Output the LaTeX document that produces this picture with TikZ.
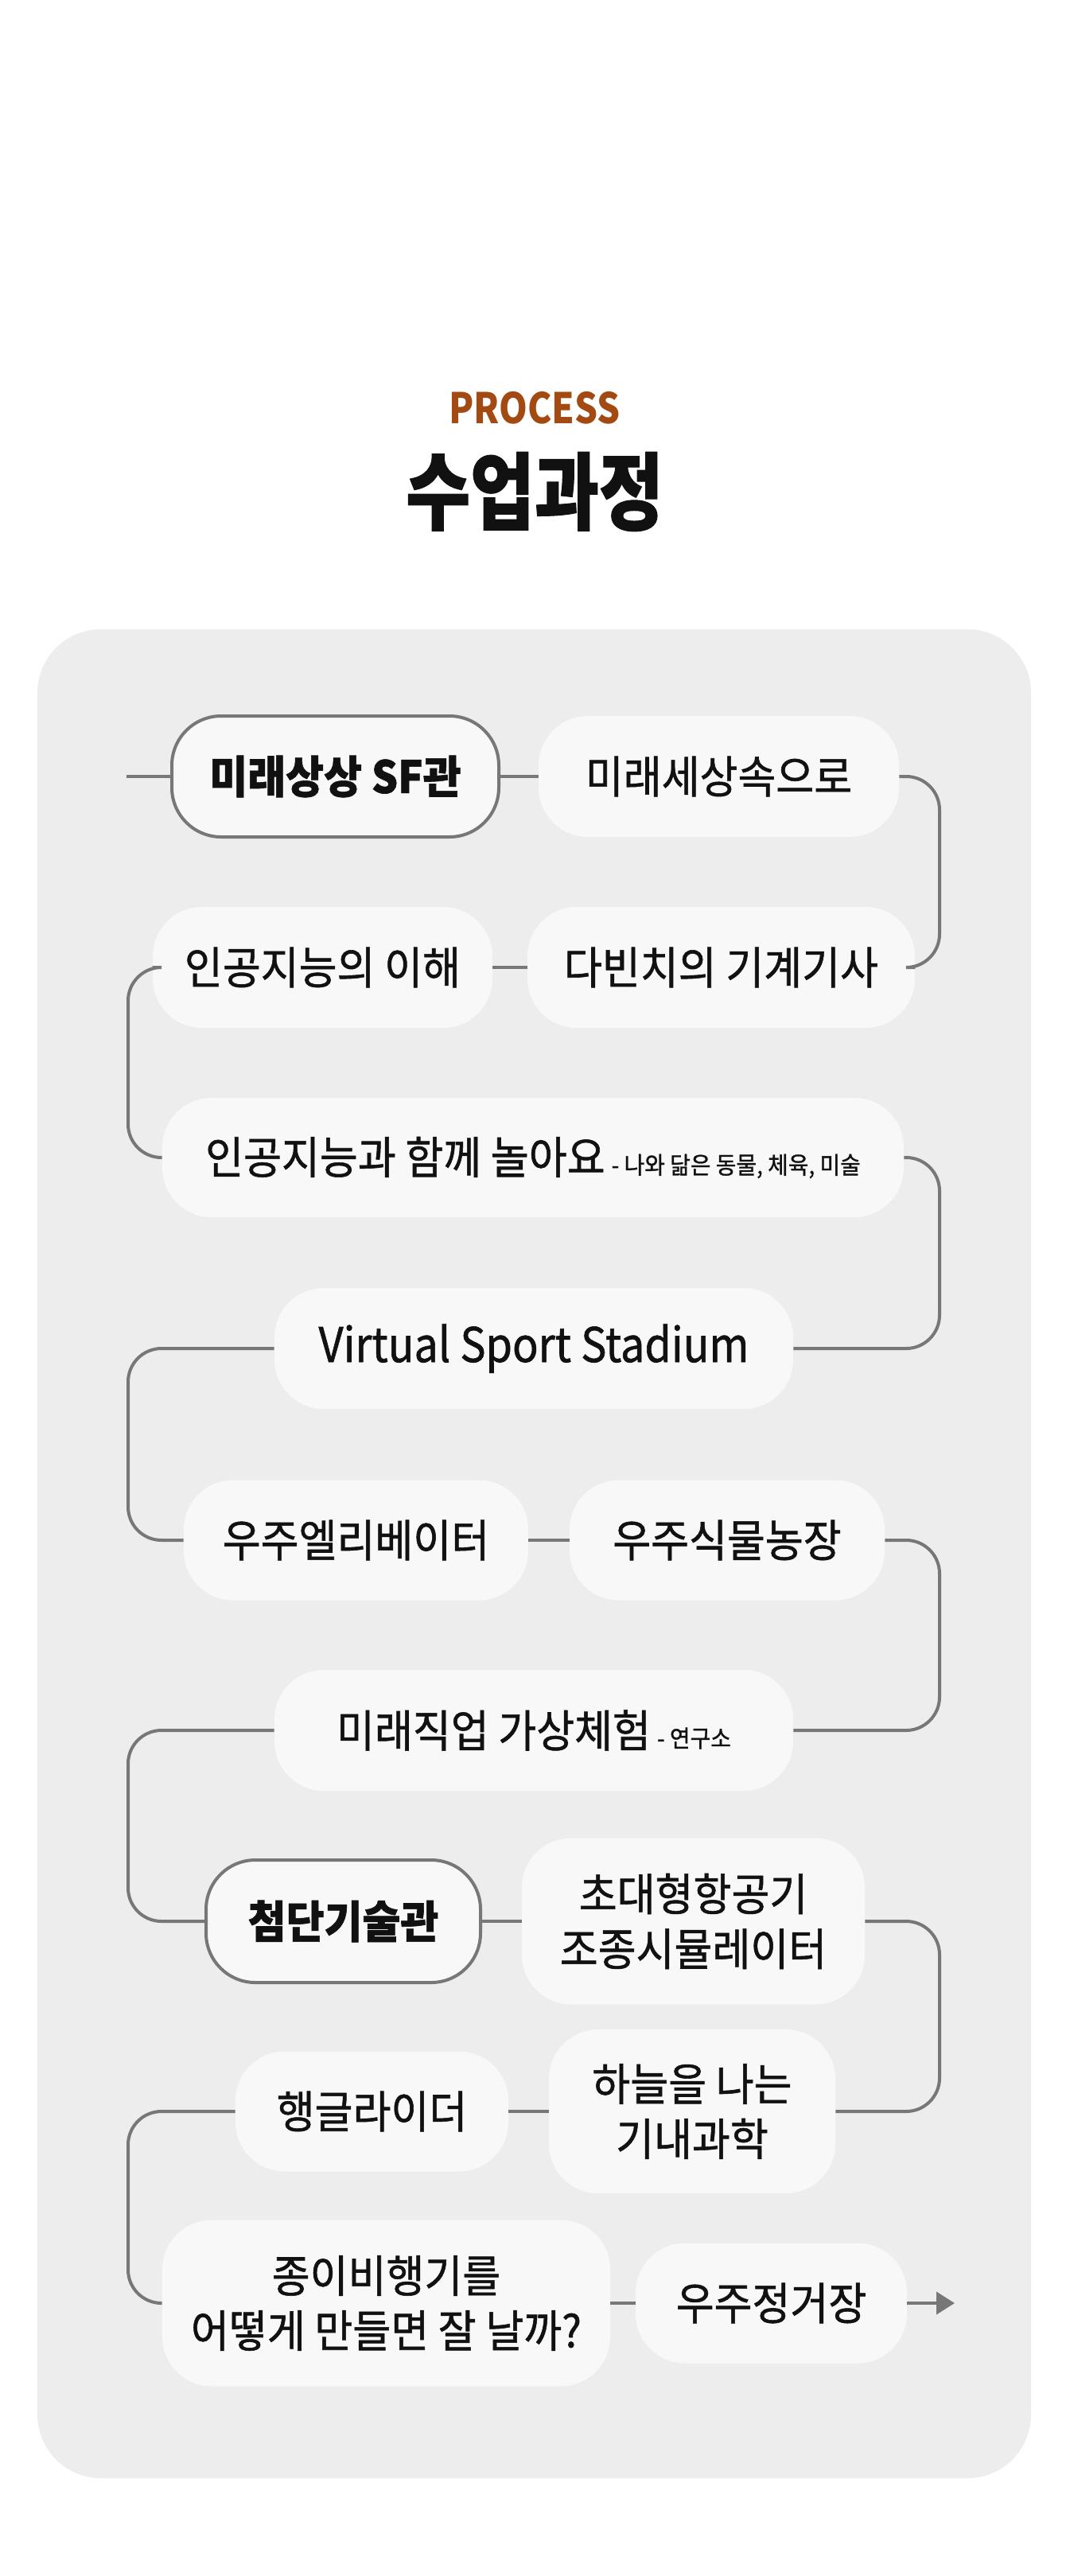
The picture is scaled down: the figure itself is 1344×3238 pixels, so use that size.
\documentclass[tikz,border=0pt]{standalone}
\usepackage{fontspec}
\setmainfont{Noto Sans CJK KR}[FakeStretch=0.93, FakeBold=1]
\newfontfamily\latinkr{Noto Sans CJK KR}[FakeStretch=0.9, FakeBold=1]
\newfontfamily\titlekr{Noto Sans CJK KR}[FakeStretch=0.83, FakeBold=1]
\newfontfamily\prockr{Noto Sans CJK KR}[FakeStretch=0.86]
\usetikzlibrary{arrows.meta}
\definecolor{linegray}{HTML}{777777}
\definecolor{boxfill}{HTML}{F8F8F8}
\definecolor{panelbg}{HTML}{EDEDED}
\definecolor{accent}{HTML}{A34A12}
\definecolor{textblack}{HTML}{111111}
\newcommand\smalltxt[1]{{\fontsize{15pt}{17pt}\selectfont #1}}
\begin{document}
\begin{tikzpicture}[x=0.5pt,y=-0.5pt,
  box/.style={fill=boxfill, rounded corners=31pt, inner sep=0pt, align=center, text=textblack,
              font=\fontsize{28pt}{34.5pt}\selectfont},
  boxb/.style={box, draw=linegray, line width=2pt, font=\fontsize{28pt}{34.5pt}\selectfont\bfseries},
  conn/.style={draw=linegray, line width=2pt, rounded corners=21pt}]
\useasboundingbox (0,0) rectangle (1344,3238);
\fill[white] (0,0) rectangle (1344,3238);
% titles
\node[text=accent, font=\prockr\fontsize{26.5pt}{30pt}\selectfont\bfseries, inner sep=0pt] (ttl1) at (672,513) {PROCESS};
\node[text=textblack, font=\titlekr\fontsize{53pt}{56pt}\selectfont\bfseries, inner sep=0pt] (ttl2) at (672,618) {수업과정};
% panel
\fill[panelbg, rounded corners=40pt] (47,791) rectangle (1296,3115);
% guide coordinates
\coordinate (R) at (1181,0);
\coordinate (L) at (161,0);
\coordinate (start) at (159,976);
\coordinate (end) at (1200,2895);
% boxes
\node[boxb, minimum width=205.5pt, minimum height=76pt] (b1) at (421.5,976) {미래상상 SF관};
\node[box, minimum width=226.5pt, minimum height=76pt] (b2) at (903.5,976) {미래세상속으로};
\node[box, minimum width=243.5pt, minimum height=76pt] (b3) at (906.5,1216) {다빈치의 기계기사};
\node[box, minimum width=213.5pt, minimum height=76pt] (b4) at (405.5,1216) {인공지능의 이해};
\node[box, minimum width=466pt, minimum height=75pt] (b5) at (670,1455) {인공지능과 함께 놀아요\hspace{4pt}\smalltxt{- 나와 닮은 동물, 체육, 미술}};
\node[box, minimum width=326pt, minimum height=76pt, font=\latinkr\fontsize{30pt}{34pt}\selectfont] (b6) at (671,1695) {Virtual Sport Stadium};
\node[box, minimum width=216.5pt, minimum height=75.5pt] (b7) at (447.5,1936) {우주엘리베이터};
\node[box, minimum width=198pt, minimum height=75.5pt] (b8) at (914,1936) {우주식물농장};
\node[box, minimum width=326pt, minimum height=76pt] (b9) at (671,2175) {미래직업 가상체험\hspace{4pt}\smalltxt{- 연구소}};
\node[boxb, minimum width=172.5pt, minimum height=77pt] (b10) at (431.5,2415) {첨단기술관};
\node[box, minimum width=215.5pt, minimum height=104.5pt] (b11) at (871.5,2415) {초대형항공기\\조종시뮬레이터};
\node[box, minimum width=180pt, minimum height=103pt] (b12) at (870,2654) {하늘을 나는\\기내과학};
\node[box, minimum width=171.5pt, minimum height=75.5pt] (b13) at (467.5,2654) {행글라이더};
\node[box, minimum width=281.5pt, minimum height=104.5pt] (b14) at (485.5,2895) {종이비행기를\\어떻게 만들면 잘 날까?};
\node[box, minimum width=170.5pt, minimum height=75.5pt] (b15) at (969.5,2895) {우주정거장};
% connectors
\draw[conn] (start) -- (b1.west);
\draw[conn] (b1.east) -- (b2.west);
\draw[conn] (b2.east) -- (R |- b2.east) -- (R |- b3.east) -- (b3.east);
\draw[conn] (b3.west) -- (b4.east);
\draw[conn] (b4.west) -- (L |- b4.west) -- (L |- b5.west) -- (b5.west);
\draw[conn] (b5.east) -- (R |- b5.east) -- (R |- b6.east) -- (b6.east);
\draw[conn] (b6.west) -- (L |- b6.west) -- (L |- b7.west) -- (b7.west);
\draw[conn] (b7.east) -- (b8.west);
\draw[conn] (b8.east) -- (R |- b8.east) -- (R |- b9.east) -- (b9.east);
\draw[conn] (b9.west) -- (L |- b9.west) -- (L |- b10.west) -- (b10.west);
\draw[conn] (b10.east) -- (b11.west);
\draw[conn] (b11.east) -- (R |- b11.east) -- (R |- b12.east) -- (b12.east);
\draw[conn] (b12.west) -- (b13.east);
\draw[conn] (b13.west) -- (L |- b13.west) -- (L |- b14.west) -- (b14.west);
\draw[conn] (b14.east) -- (b15.west);
\draw[conn, -{Triangle[length=11.5pt,width=14pt]}] (b15.east) -- (end);
\end{tikzpicture}
\end{document}
